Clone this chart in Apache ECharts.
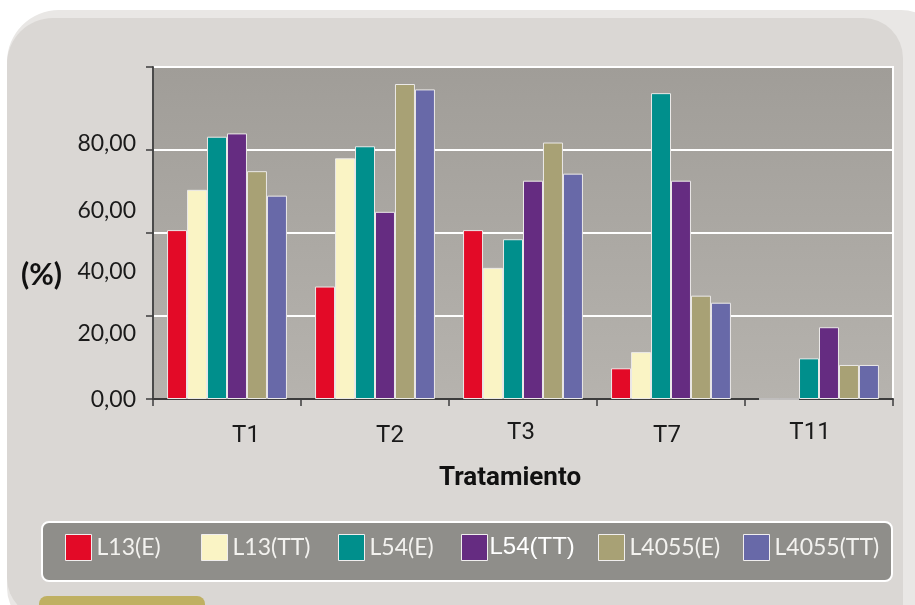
<!DOCTYPE html>
<html>
<head>
<meta charset="utf-8">
<script src="https://cdn.jsdelivr.net/npm/echarts@6/dist/echarts.min.js"></script>
<style>
html,body{margin:0;padding:0;background:#ffffff;}
#chart{width:915px;height:605px;}
</style>
</head>
<body>
<div id="chart"></div>
<script>
// ---- data ----
const categories = ['T1', 'T2', 'T3', 'T7', 'T11'];
const seriesNames = ['L13(E)', 'L13(TT)', 'L54(E)', 'L54(TT)', 'L4055(E)', 'L4055(TT)'];
const L13_E    = [40.7, 27.1, 40.7,  7.4,  0.0];
const L13_TT   = [50.4, 58.0, 31.6, 11.3,  0.0];
const L54_E    = [63.2, 60.9, 38.5, 73.7,  9.8];
const L54_TT   = [64.0, 45.1, 52.6, 52.6, 17.3];
const L4055_E  = [54.9, 75.9, 61.8, 24.9,  8.2];
const L4055_TT = [49.0, 74.6, 54.3, 23.2,  8.2];
const yTicks = [0, 20, 40, 60, 80];
const yTickLabels = ['0,00', '20,00', '40,00', '60,00', '80,00'];
const xAxisTitle = 'Tratamiento';
const yAxisTitle = '(%)';

const seriesData = [L13_E, L13_TT, L54_E, L54_TT, L4055_E, L4055_TT];
const colors = ['#e30a27', '#faf4c5', '#008f8c', '#652c81', '#a8a175', '#6869a8'];

const chart = echarts.init(document.getElementById('chart'), null, {renderer: 'canvas'});

const legendLeft = [65, 201, 338, 461, 598, 743];

const legends = seriesNames.map((n, i) => ({
  data: [n],
  left: legendLeft[i],
  top: 534,
  padding: 0,
  orient: 'horizontal',
  itemWidth: 26,
  itemHeight: 26,
  icon: 'rect',
  itemGap: 0,
  selectedMode: false,
  textStyle: i === 3
    ? {color: '#ffffff', fontFamily: 'Liberation Sans', fontSize: 24, padding: [0, 0, 0, -3]}
    : {color: '#f3f2ef', fontFamily: 'Lato', fontSize: 23},
  itemStyle: {borderColor: '#f0eeee', borderWidth: 1}
}));

const option = {
  backgroundColor: '#ffffff',
  animation: false,
  color: colors,
  graphic: [
    {type: 'rect', z: -10, shape: {x: 7, y: 10, width: 940, height: 620, r: [52, 46, 0, 42]},
     style: {fill: '#e9e7e5'}},
    {type: 'rect', z: -9, shape: {x: 7, y: 18, width: 896, height: 600, r: [46, 40, 0, 40]},
     style: {fill: '#dad7d4'}},
    {type: 'rect', z: -8, shape: {x: 39, y: 596, width: 166, height: 30, r: 8},
     style: {fill: '#bfb062'}},
    {type: 'rect', z: 3, shape: {x: 42, y: 522, width: 850, height: 59, r: 7},
     style: {fill: '#8f8e8a', stroke: '#ffffff', lineWidth: 2}}
  ],
  legend: legends,
  grid: {
    left: 153, right: 22, top: 67, bottom: 206,
    show: true,
    borderColor: '#ffffff',
    borderWidth: 2,
    backgroundColor: {
      type: 'linear', x: 0, y: 0, x2: 0, y2: 1,
      colorStops: [{offset: 0, color: '#a09d98'}, {offset: 1, color: '#b6b3ae'}]
    }
  },
  xAxis: {
    type: 'category',
    data: categories,
    boundaryGap: true,
    axisLine: {lineStyle: {color: '#3c3c3c', width: 2}},
    axisTick: {show: true, length: 7, lineStyle: {color: '#3c3c3c', width: 1.5}},
    axisLabel: {
      margin: 22,
      interval: 0,
      color: '#1a1a1a',
      fontFamily: 'Roboto, sans-serif',
      fontSize: 24,
      formatter: (v) => '{' + v + '|' + v + '}',
      rich: {
        T1: {padding: [3, 0, 0, 38]},
        T2: {padding: [3, 0, 0, 30]},
        T3: {padding: [0, 4, 0, 0]},
        T7: {padding: [3, 8, 0, 0]},
        T11: {padding: [0, 18, 0, 0]}
      }
    },
    name: xAxisTitle,
    nameLocation: 'middle',
    nameGap: 66,
    nameTextStyle: {
      color: '#111111',
      fontFamily: 'Roboto, sans-serif',
      fontWeight: 'bold',
      fontSize: 26,
      padding: [0, 26, 0, 0]
    }
  },
  yAxis: {
    type: 'value',
    min: 0,
    max: 80,
    interval: 20,
    axisLine: {show: true, lineStyle: {color: '#4a4a4a', width: 2}},
    axisTick: {show: true, length: 7, lineStyle: {color: '#3c3c3c', width: 1.5}},
    splitLine: {show: true, lineStyle: {color: '#ffffff', width: 2}},
    axisLabel: {
      margin: 17,
      color: '#1a1a1a',
      fontFamily: 'Lato, sans-serif',
      fontSize: 23,
      formatter: (v) => {
        const i = yTicks.indexOf(v);
        return i < 0 ? '' : '{l' + i + '|' + yTickLabels[i] + '}';
      },
      rich: {
        l0: {padding: [2, 0, 0, 0]},
        l1: {padding: [36, 0, 0, 0]},
        l2: {padding: [78, 0, 0, 0]},
        l3: {padding: [122, 0, 0, 0]},
        l4: {padding: [154, 0, 0, 0]}
      }
    },
    name: '{p|' + yAxisTitle + '}',
    nameLocation: 'middle',
    nameRotate: 0,
    nameGap: 91,
    nameTextStyle: {
      rich: {
        p: {
          color: '#111111',
          fontFamily: 'Lato, sans-serif',
          fontWeight: 'bold',
          fontSize: 30,
          padding: [84, 0, 0, 0]
        }
      }
    }
  },
  series: seriesNames.map((n, i) => ({
    name: n,
    type: 'bar',
    data: seriesData[i],
    barGap: '0%',
    barCategoryGap: '19%',
    itemStyle: {color: colors[i], borderColor: '#ebe9e8', borderWidth: 1}
  }))
};

chart.setOption(option);
</script>
</body>
</html>
